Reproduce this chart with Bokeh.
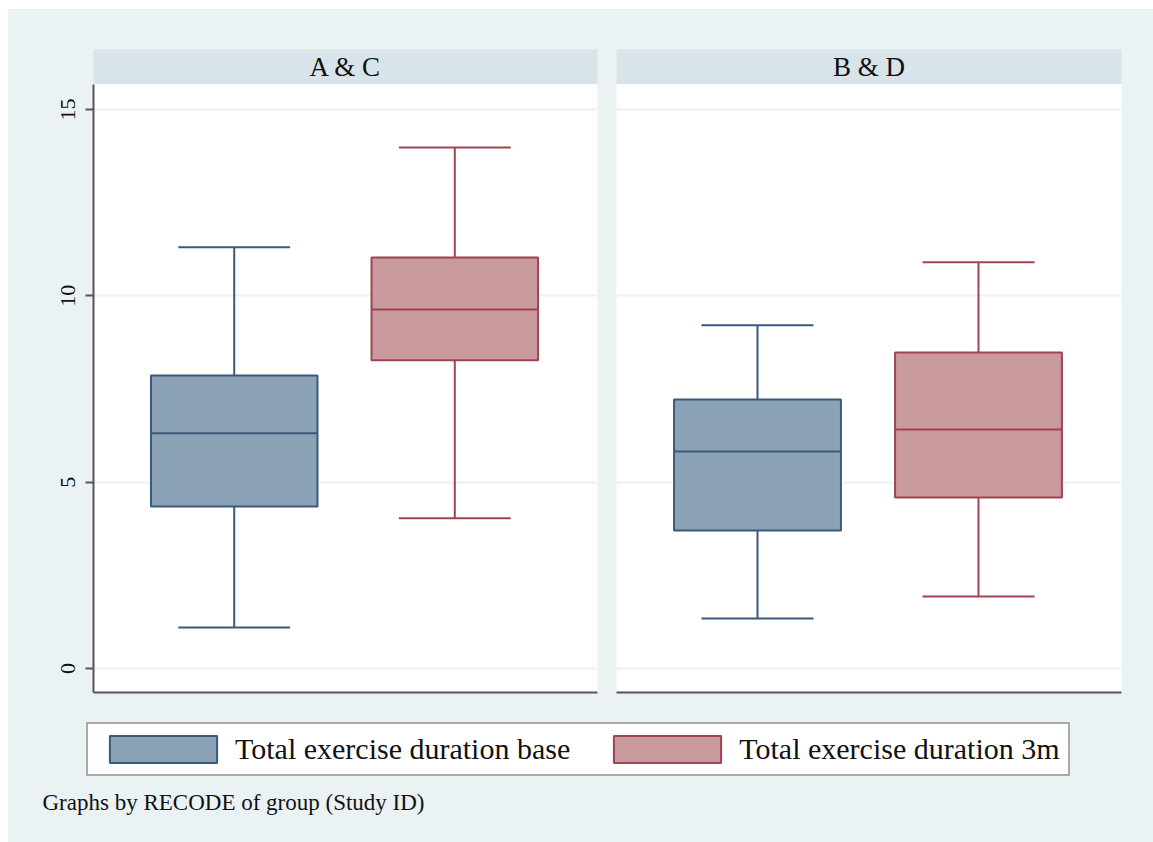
from bokeh.plotting import figure
from bokeh.layouts import row, column
from bokeh.models import Range1d, FixedTicker, Legend, LegendItem, Label
from bokeh.core.properties import value
from bokeh.embed import file_html
from bokeh.resources import INLINE

# ---- data -------------------------------------------------------------
groups = ["A & C", "B & D"]
series = ["Total exercise duration base", "Total exercise duration 3m"]

# box-plot summaries per group: lower whisker, Q1, median, Q3, upper whisker
base_lower = [1.10, 1.34]
base_q1 = [4.35, 3.70]
base_median = [6.31, 5.82]
base_q3 = [7.86, 7.22]
base_upper = [11.30, 9.21]

m3_lower = [4.03, 1.93]
m3_q1 = [8.27, 4.59]
m3_median = [9.63, 6.41]
m3_q3 = [11.03, 8.48]
m3_upper = [13.98, 10.90]

y_ticks = [0, 5, 10, 15]
caption = "Graphs by RECODE of group (Study ID)"

# ---- style ------------------------------------------------------------
SERIF = "Liberation Serif"
BG = "#EAF2F3"
HEADER = "#D8E4EA"
GRID = "#EAF2F3"
AXIS = "#555555"
TEXT = "#111111"
FILLS = ["#8CA3B7", "#C89A9D"]
LINES = ["#3A5A7A", "#A0444F"]
BOX_W = 0.755
CAP_W = 0.507
X_RANGE = (0.362, 2.647)
Y_RANGE = (-0.644, 15.67)
NAN = float("nan")


def base_fig(**kw):
    return figure(output_backend="svg", toolbar_location=None, **kw)


def make_header(name, width, lb, rb):
    h = base_fig(width=width, height=75, x_range=Range1d(0, 1), y_range=Range1d(0, 1),
                 x_axis_location=None, y_axis_location=None,
                 min_border_left=lb, min_border_right=rb, min_border_top=40, min_border_bottom=0,
                 background_fill_color=HEADER, border_fill_color=BG, outline_line_color=None)
    h.grid.visible = False
    h.text(x=[0.5], y=[0.5], text=[name], text_align="center", text_baseline="middle",
           text_font=value(SERIF), text_font_size="27px", text_color=TEXT)
    return h


def make_panel(i, width, lb, rb, show_y):
    p = base_fig(width=width, height=628, x_range=Range1d(*X_RANGE), y_range=Range1d(*Y_RANGE),
                 x_axis_location="below", y_axis_location="left" if show_y else None,
                 min_border_left=lb, min_border_right=rb, min_border_top=0, min_border_bottom=20,
                 background_fill_color="white", border_fill_color=BG, outline_line_color=None)
    p.xgrid.visible = False
    p.ygrid.ticker = FixedTicker(ticks=y_ticks)
    p.ygrid.grid_line_color = GRID
    p.ygrid.grid_line_width = 2

    xa = p.xaxis[0]
    xa.ticker = FixedTicker(ticks=[])
    xa.major_label_text_font_size = "0px"
    xa.major_tick_line_color = None
    xa.minor_tick_line_color = None
    xa.axis_line_color = AXIS
    xa.axis_line_width = 2

    if show_y:
        ya = p.yaxis[0]
        ya.ticker = FixedTicker(ticks=y_ticks)
        ya.major_label_orientation = "vertical"
        ya.major_tick_in = 0
        ya.major_tick_out = 8
        ya.major_tick_line_color = AXIS
        ya.major_tick_line_width = 2
        ya.minor_tick_line_color = None
        ya.axis_line_color = AXIS
        ya.axis_line_width = 2
        ya.major_label_standoff = 10
        ya.major_label_text_font = SERIF
        ya.major_label_text_font_size = "22px"
        ya.major_label_text_color = TEXT

    xs = [1, 2]
    lo = [base_lower[i], m3_lower[i]]
    q1 = [base_q1[i], m3_q1[i]]
    med = [base_median[i], m3_median[i]]
    q3 = [base_q3[i], m3_q3[i]]
    hi = [base_upper[i], m3_upper[i]]

    # whiskers and caps
    p.segment(x0=xs, x1=xs, y0=q3, y1=hi, line_color=LINES, line_width=2)
    p.segment(x0=xs, x1=xs, y0=q1, y1=lo, line_color=LINES, line_width=2)
    p.segment(x0=[x - CAP_W / 2 for x in xs], x1=[x + CAP_W / 2 for x in xs], y0=hi, y1=hi,
              line_color=LINES, line_width=2)
    p.segment(x0=[x - CAP_W / 2 for x in xs], x1=[x + CAP_W / 2 for x in xs], y0=lo, y1=lo,
              line_color=LINES, line_width=2)
    # boxes and medians
    p.vbar(x=xs, width=BOX_W, bottom=q1, top=q3, fill_color=FILLS, line_color=LINES, line_width=2)
    p.segment(x0=[x - BOX_W / 2 for x in xs], x1=[x + BOX_W / 2 for x in xs], y0=med, y1=med,
              line_color=LINES, line_width=2)
    return p


hdr_left = make_header(groups[0], 598, 85, 9)
hdr_right = make_header(groups[1], 547, 10, 32)
panel_left = make_panel(0, 598, 85, 9, True)
panel_right = make_panel(1, 547, 10, 32, False)

# legend strip and note
lg = base_fig(width=1145, height=130, x_range=Range1d(0, 1), y_range=Range1d(0, 1),
              x_axis_location=None, y_axis_location=None, min_border=0,
              background_fill_color=BG, border_fill_color=BG, outline_line_color=None)
lg.grid.visible = False
# stand-in glyphs that only supply the legend swatch styles (NaN keeps them off the canvas)
r_base = lg.quad(left=[NAN], right=[NAN], top=[NAN], bottom=[NAN],
                 fill_color=FILLS[0], line_color=LINES[0], line_width=2)
r_3m = lg.quad(left=[NAN], right=[NAN], top=[NAN], bottom=[NAN],
               fill_color=FILLS[1], line_color=LINES[1], line_width=2)
legend = Legend(items=[LegendItem(label=series[0], renderers=[r_base]),
                       LegendItem(label=series[1], renderers=[r_3m])],
                orientation="horizontal", location=(78, 66), margin=0,
                glyph_width=134, glyph_height=34, label_standoff=5, spacing=30, padding=8,
                label_text_font=SERIF, label_text_font_size="30px", label_text_color=TEXT,
                label_text_baseline="middle",
                border_line_color=AXIS, border_line_width=2,
                background_fill_color="white", background_fill_alpha=1.0)
lg.add_layout(legend)
lg.add_layout(Label(x=34, y=40, x_units="screen", y_units="screen", text=caption,
                    text_font=SERIF, text_font_size="23px", text_color=TEXT,
                    text_baseline="middle"))

layout = column(row(hdr_left, hdr_right, styles={"background-color": BG}),
                row(panel_left, panel_right, styles={"background-color": BG}),
                lg, margin=(9, 0, 0, 8), styles={"background-color": BG})

with open("out.html", "w") as f:
    f.write(file_html(layout, INLINE))
